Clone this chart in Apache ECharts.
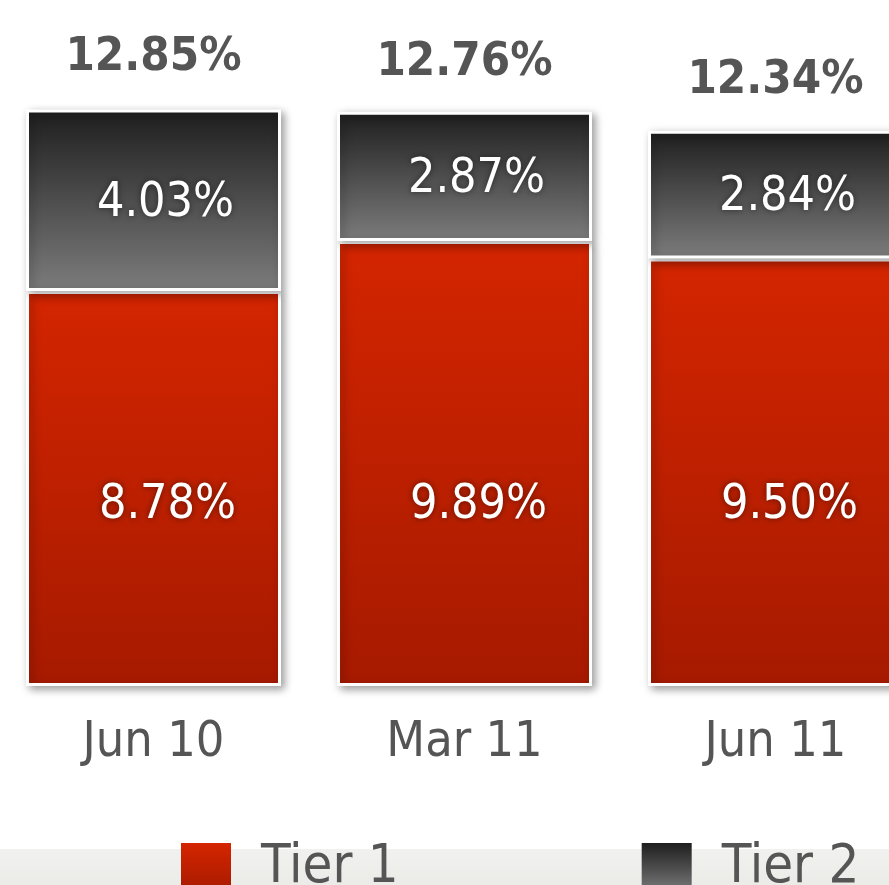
<!DOCTYPE html>
<html>
<head>
<meta charset="utf-8">
<script src="https://cdn.jsdelivr.net/npm/echarts@6/dist/echarts.min.js"></script>
<style>
  html, body { margin: 0; padding: 0; background: #fff; }
  #main { width: 889px; height: 885px; }
</style>
</head>
<body>
<div id="main"></div>
<script>
// data
const categories = ['Jun 10', 'Mar 11', 'Jun 11']
const tier1 = [8.78, 9.89, 9.50]
const tier2 = [4.03, 2.87, 2.84]
const totals = [12.85, 12.76, 12.34]

const FONT = '"Liberation Sans Narrow", "DejaVu Sans Condensed", sans-serif'

function grad(top, bottom) {
  return new echarts.graphic.LinearGradient(0, 0, 0, 1, [
    { offset: 0, color: top },
    { offset: 1, color: bottom },
  ])
}

const barStyle = {
  borderColor: '#ffffff',
  borderWidth: 3,
  shadowColor: 'rgba(0,0,0,0.35)',
  shadowBlur: 8,
  shadowOffsetX: 3,
  shadowOffsetY: 3,
}

const chart = echarts.init(document.getElementById('main'))

chart.setOption({
  backgroundColor: '#ffffff',
  animation: false,
  graphic: [{
    type: 'rect',
    left: 0,
    top: 849,
    z: -10,
    shape: { width: 889, height: 36 },
    style: { fill: grad('#f1f1ef', '#ebebe8') },
  }],
  legend: {
    left: 176,
    top: 836,
    width: 800,
    icon: 'rect',
    itemWidth: 50,
    itemHeight: 50,
    itemGap: 243,
    itemStyle: { borderWidth: 0, shadowBlur: 0 },
    textStyle: { fontFamily: FONT, fontSize: 54, color: '#555555', padding: [0, 0, 16, 25] },
    data: ['Tier 1', 'Tier 2'],
  },
  grid: { left: -2, right: -42, top: 56, bottom: 199, outerBoundsMode: 'none', containLabel: false },
  xAxis: {
    type: 'category',
    data: categories,
    axisLine: { show: false },
    axisTick: { show: false },
    axisLabel: { fontFamily: FONT, fontSize: 50, color: '#555555', margin: 32 },
  },
  yAxis: {
    type: 'value',
    min: 0,
    max: 14,
    show: false,
    splitLine: { show: false },
  },
  series: [{
    name: 'Tier 1',
    type: 'bar',
    stack: 'total',
    barWidth: 255,
    data: tier1,
    itemStyle: Object.assign({ color: grad('#d42500', '#a61a00') }, barStyle),
    label: {
      show: true,
      position: ['50%', '100%'],
      offset: [14, -180],
      align: 'center',
      verticalAlign: 'middle',
      formatter: p => p.value.toFixed(2) + '%',
      fontFamily: FONT,
      fontSize: 48,
      color: '#ffffff',
      textShadowColor: 'rgba(0,0,0,0.5)',
      textShadowBlur: 6,
    },
  }, {
    name: 'Tier 2',
    type: 'bar',
    stack: 'total',
    data: tier2,
    itemStyle: Object.assign({ color: grad('#1e1e1e', '#7c7c7c') }, barStyle),
    label: {
      show: true,
      position: 'inside',
      offset: [12, 3],
      formatter: p => p.value.toFixed(2) + '%',
      fontFamily: FONT,
      fontSize: 48,
      color: '#ffffff',
      textShadowColor: 'rgba(0,0,0,0.5)',
      textShadowBlur: 6,
    },
  }, {
    // totals drawn on top of the stack
    name: 'total',
    type: 'bar',
    barGap: '-100%',
    barWidth: 255,
    data: totals,
    itemStyle: { color: 'transparent' },
    silent: true,
    z: 5,
    label: {
      show: true,
      position: 'top',
      distance: 26,
      formatter: p => p.value.toFixed(2) + '%',
      fontFamily: FONT,
      fontWeight: 'bold',
      fontSize: 47,
      color: '#555555',
    },
  }],
})
</script>
</body>
</html>
